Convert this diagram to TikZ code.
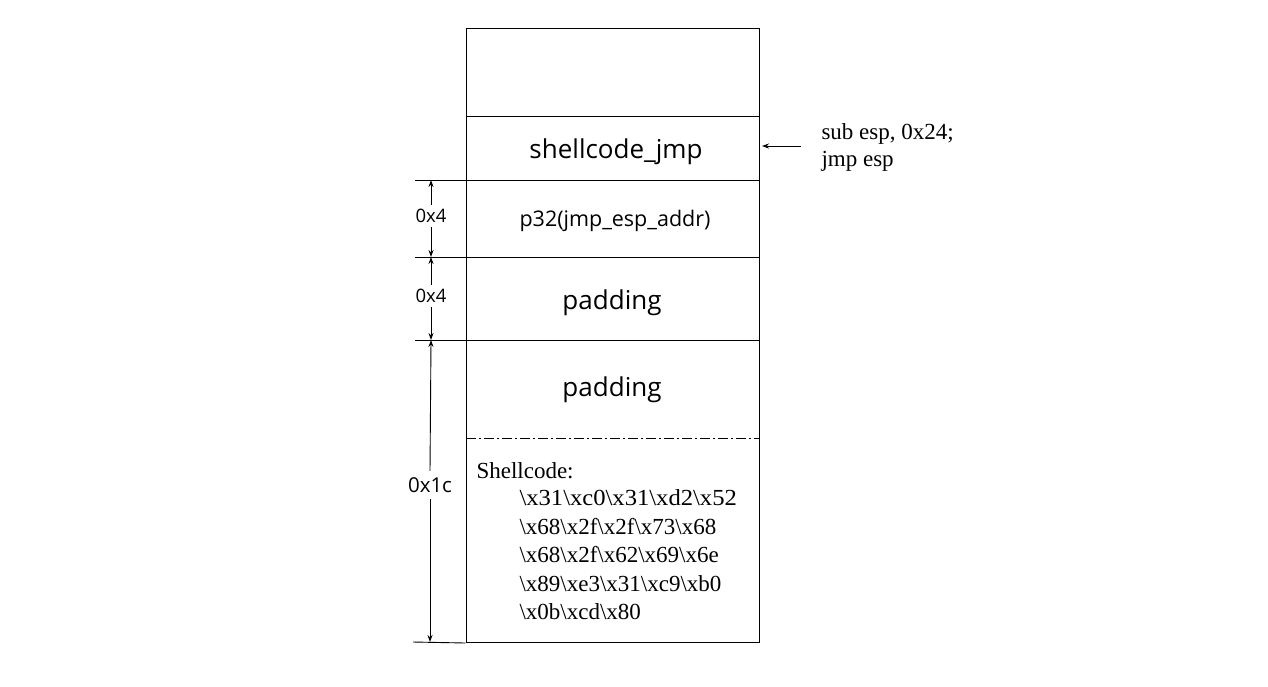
\documentclass[tikz,border=0pt]{standalone}
\usepackage{fontspec}
\setmainfont{Liberation Serif}
\newfontfamily\labelfont{Open Sans}
\usetikzlibrary{arrows.meta}
\newcommand\bs{\textbackslash}
\begin{document}
\begin{tikzpicture}[x=1pt,y=-1pt,line width=1pt,
  cell/.style={draw,minimum width=293pt,inner sep=0pt,anchor=north},
  bigsans/.style={font=\labelfont\fontsize{26}{30}\selectfont},
  midsans/.style={font=\labelfont\fontsize{21.5}{25}\selectfont},
  dimtext/.style={font=\labelfont\fontsize{18.5}{22}\selectfont,inner sep=0pt},
  serif/.style={font=\fontsize{23}{27}\selectfont,inner sep=0pt,anchor=base west},
  tick/.style={line width=0.9pt},
  dimarrow/.style={line width=0.9pt,-{Stealth[length=7pt,width=5pt]}}
]
\useasboundingbox (0,0) rectangle (1268,686);

% stack cells
\node[cell,minimum height=88pt] (top)  at (612.5,28)  {};
\node[cell,minimum height=64pt] (jmp)  at (612.5,116) {};
\node[cell,minimum height=77pt] (ret)  at (612.5,180) {};
\node[cell,minimum height=83pt] (pad1) at (612.5,257) {};
\node[cell,minimum height=302pt] (low) at (612.5,340) {};

% cell labels
\node[bigsans] (tjmp) at (616,152) {shellcode\_jmp};
\node[midsans] (tret) at (615,221) {p32(jmp\_esp\_addr)};
\node[bigsans] (tpad1) at (612,303) {padding};
\node[bigsans] (tpad2) at (612,390) {padding};

% boundary between padding and shellcode
\coordinate (dl) at (466,438);
\coordinate (dr) at (759,438);
\draw[dash pattern=on 10pt off 3pt on 2pt off 3pt] (dl) -- (dr);

% shellcode bytes
\node[serif] (sc) at (476,478) {Shellcode:};
\node[serif] (h1) at (519,505) {\scalebox{1.07}[1]{\bs x31\bs xc0\bs x31\bs xd2\bs x52}};
\node[serif] (h2) at (519,534) {\bs x68\bs x2f\bs x2f\bs x73\bs x68};
\node[serif] (h3) at (519,562) {\bs x68\bs x2f\bs x62\bs x69\bs x6e};
\node[serif] (h4) at (519,591) {\bs x89\bs xe3\bs x31\bs xc9\bs xb0};
\node[serif] (h5) at (519,619) {\bs x0b\bs xcd\bs x80};

% pointer to shellcode_jmp
\node[serif] (ins1) at (821,139) {sub esp, 0x24;};
\node[serif] (ins2) at (821,166) {jmp esp};
\coordinate (ptail) at (801,146);
\coordinate (phead) at (762,146);
\draw[dimarrow] (ptail) -- (phead);

% dimension ticks
\coordinate (t1) at (415,180);
\coordinate (t2) at (415,257);
\coordinate (t3) at (415,340);
\coordinate (t4) at (413,642);
\draw[tick] (t1) -- (ret.north west);
\draw[tick] (t2) -- (pad1.north west);
\draw[tick] (t3) -- (low.north west);
\draw[tick] (t4) -- (low.south west);

% dimension labels
\node[dimtext] (d1) at (431,216) {0x4};
\node[dimtext] (d2) at (431,296) {0x4};
\node[dimtext,font=\labelfont\fontsize{20.5}{24}\selectfont] (d3) at (430,485) {0x1c};

% dimension arrows
\coordinate (a1) at (431,180);
\coordinate (a2) at (431,257);
\coordinate (a3) at (431,340);
\coordinate (a4) at (430,642);
\draw[dimarrow] (d1.north) ++(0,-4) -- (a1);
\draw[dimarrow] (d1.south) ++(0,4) -- (a2);
\draw[dimarrow] (d2.north) ++(0,-4) -- (a2);
\draw[dimarrow] (d2.south) ++(0,4) -- (a3);
\draw[dimarrow] (d3.north) ++(0,-6) -- (a3);
\draw[dimarrow] (d3.south) ++(0,6) -- (a4);
\end{tikzpicture}
\end{document}
